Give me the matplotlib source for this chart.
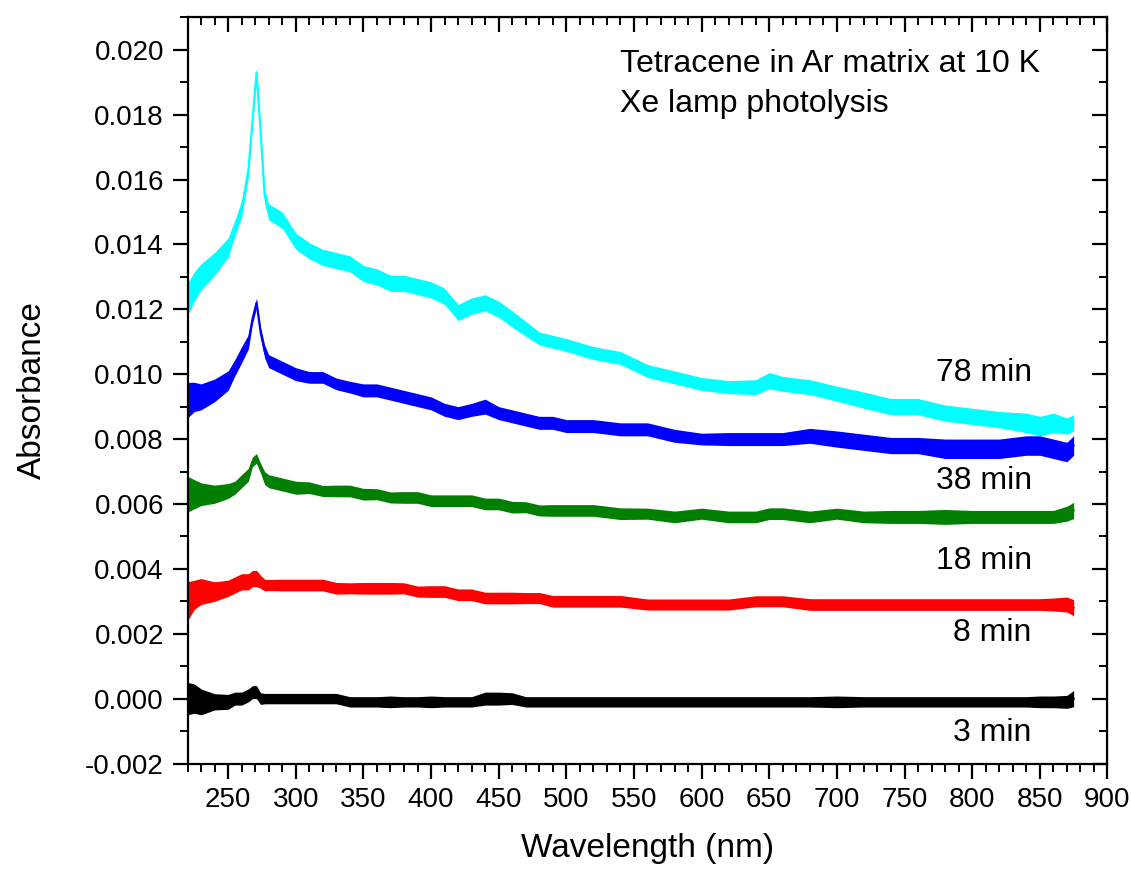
import matplotlib
matplotlib.use("Agg")
import matplotlib.pyplot as plt
from matplotlib.ticker import MultipleLocator, FormatStrFormatter, NullFormatter
import numpy as np

plt.rcParams['font.family'] = ['Liberation Sans', 'DejaVu Sans']
plt.rcParams['axes.unicode_minus'] = False

# wavelength grid (nm)
wl = [220, 225, 230, 240, 250, 255, 260, 265, 268, 271,
      274, 277, 280, 290, 300, 310, 320, 330, 340, 350,
      360, 370, 380, 390, 400, 410, 420, 430, 440, 450,
      460, 470, 480, 490, 500, 520, 540, 560, 580, 600,
      620, 640, 650, 660, 680, 700, 720, 740, 760, 780,
      800, 820, 840, 850, 860, 870, 875]

# mean absorbance of each photolysis time
a78 = [0.0123, 0.0127, 0.0130, 0.0134, 0.0139, 0.0145, 0.0151, 0.0163, 0.0178, 0.0193,
       0.0175, 0.0155, 0.0150, 0.01475, 0.0141, 0.0138, 0.0136, 0.0135, 0.0134, 0.0131,
       0.0130, 0.0128, 0.0128, 0.0127, 0.0126, 0.0124, 0.0119, 0.0121, 0.0122, 0.0120,
       0.0117, 0.0114, 0.0111, 0.0110, 0.0109, 0.01065, 0.0105, 0.0101, 0.0099, 0.0097,
       0.0096, 0.0096, 0.0098, 0.0097, 0.0096, 0.0094, 0.0092, 0.0090, 0.0090, 0.0088,
       0.0087, 0.0086, 0.0085, 0.0084, 0.0085, 0.0084, 0.0085]
a38 = [0.0092, 0.0093, 0.0093, 0.0095, 0.0098, 0.0102, 0.0106, 0.0110, 0.0117, 0.0122,
       0.0113, 0.0107, 0.0104, 0.0102, 0.0100, 0.0099, 0.0099, 0.0097, 0.0096, 0.0095,
       0.0095, 0.0094, 0.0093, 0.0092, 0.0091, 0.0089, 0.0088, 0.0089, 0.0090, 0.0088,
       0.0087, 0.0086, 0.0085, 0.0085, 0.0084, 0.0084, 0.0083, 0.0083, 0.0081, 0.0080,
       0.0080, 0.0080, 0.0080, 0.0080, 0.0081, 0.0080, 0.0079, 0.0078, 0.0078, 0.0077,
       0.0077, 0.0077, 0.0078, 0.0078, 0.0077, 0.0076, 0.0078]
a18 = [0.0063, 0.0063, 0.0063, 0.0063, 0.0064, 0.0065, 0.0067, 0.0069, 0.0073, 0.0074,
       0.0071, 0.0068, 0.0067, 0.0066, 0.0065, 0.0065, 0.0064, 0.0064, 0.0064, 0.0063,
       0.0063, 0.0062, 0.0062, 0.0062, 0.0061, 0.0061, 0.0061, 0.0061, 0.0060, 0.0060,
       0.0059, 0.0059, 0.0058, 0.0058, 0.0058, 0.0058, 0.0057, 0.0057, 0.0056, 0.0057,
       0.0056, 0.0056, 0.0057, 0.0057, 0.0056, 0.0057, 0.0056, 0.0056, 0.0056, 0.0056,
       0.0056, 0.0056, 0.0056, 0.0056, 0.0056, 0.0057, 0.0058]
a8 = [0.0030, 0.0032, 0.0033, 0.0033, 0.0034, 0.0035, 0.0036, 0.0036, 0.0037, 0.0037,
      0.0036, 0.0035, 0.0035, 0.0035, 0.0035, 0.0035, 0.0035, 0.0034, 0.0034, 0.0034,
      0.0034, 0.0034, 0.0034, 0.0033, 0.0033, 0.0033, 0.0032, 0.0032, 0.0031, 0.0031,
      0.0031, 0.0031, 0.0031, 0.0030, 0.0030, 0.0030, 0.0030, 0.0029, 0.0029, 0.0029,
      0.0029, 0.0030, 0.0030, 0.0030, 0.0029, 0.0029, 0.0029, 0.0029, 0.0029, 0.0029,
      0.0029, 0.0029, 0.0029, 0.0029, 0.0029, 0.0029, 0.0028]
a3 = [0.0000, 0.0000, -0.0001, -0.0001, -0.0001, 0.0000, 0.0000, 0.0001, 0.0002, 0.0002,
      0.0000, 0.0000, 0.0000, 0.0000, 0.0000, 0.0000, 0.0000, 0.0000, -0.0001, -0.0001,
      -0.0001, -0.0001, -0.0001, -0.0001, -0.0001, -0.0001, -0.0001, -0.0001, 0.0000, 0.0000,
      0.0000, -0.0001, -0.0001, -0.0001, -0.0001, -0.0001, -0.0001, -0.0001, -0.0001, -0.0001,
      -0.0001, -0.0001, -0.0001, -0.0001, -0.0001, -0.0001, -0.0001, -0.0001, -0.0001, -0.0001,
      -0.0001, -0.0001, -0.0001, -0.0001, -0.0001, -0.0001, 0.0000]

# half-width of the noise band around each mean
n78 = [0.0005, 0.00045, 0.0004, 0.00035, 0.0003, 0.00025, 0.00025, 0.00022, 0.00015, 0.00015,
       0.00015, 0.00022, 0.00025, 0.00025, 0.00025, 0.00025, 0.00025, 0.00025, 0.00025, 0.00025,
       0.00025, 0.00025, 0.00025, 0.00025, 0.00025, 0.00025, 0.00025, 0.00025, 0.00025, 0.00025,
       0.00025, 0.00023, 0.0002, 0.0002, 0.0002, 0.0002, 0.0002, 0.0002, 0.0002, 0.0002,
       0.0002, 0.00023, 0.00025, 0.00023, 0.00023, 0.00023, 0.00025, 0.00025, 0.00025, 0.00025,
       0.00025, 0.00025, 0.0003, 0.0003, 0.0003, 0.00025, 0.00025]
n38 = [0.00055, 0.00045, 0.0004, 0.00035, 0.0003, 0.00025, 0.00025, 0.00022, 0.00015, 0.00015,
       0.00015, 0.0002, 0.0002, 0.0002, 0.0002, 0.00018, 0.00018, 0.00018, 0.00018, 0.0002,
       0.0002, 0.0002, 0.0002, 0.0002, 0.0002, 0.0002, 0.0002, 0.0002, 0.00023, 0.0002,
       0.0002, 0.0002, 0.0002, 0.0002, 0.0002, 0.0002, 0.0002, 0.0002, 0.0002, 0.00018,
       0.0002, 0.0002, 0.0002, 0.0002, 0.00023, 0.00025, 0.00025, 0.00025, 0.00025, 0.0003,
       0.0003, 0.0003, 0.0003, 0.0003, 0.0003, 0.0003, 0.0003]
n18 = [0.00055, 0.00045, 0.00035, 0.00028, 0.00023, 0.0002, 0.0002, 0.0002, 0.00015, 0.00015,
       0.00015, 0.0002, 0.0002, 0.0002, 0.0002, 0.00018, 0.00017, 0.00018, 0.00018, 0.00018,
       0.00017, 0.00017, 0.00018, 0.00018, 0.00018, 0.00018, 0.00018, 0.00018, 0.00018, 0.00018,
       0.00018, 0.00017, 0.00017, 0.00018, 0.00018, 0.00018, 0.00018, 0.00017, 0.00018, 0.00017,
       0.00018, 0.00018, 0.00018, 0.00018, 0.00018, 0.00017, 0.00018, 0.0002, 0.0002, 0.00023,
       0.0002, 0.0002, 0.0002, 0.0002, 0.0002, 0.00023, 0.00025]
n8 = [0.0006, 0.00045, 0.0004, 0.0003, 0.00025, 0.00025, 0.00025, 0.00025, 0.00025, 0.00025,
      0.0002, 0.00018, 0.00017, 0.00018, 0.00018, 0.00018, 0.00018, 0.00018, 0.00017, 0.00018,
      0.00018, 0.00018, 0.00017, 0.00017, 0.00018, 0.00018, 0.00018, 0.00018, 0.00018, 0.00018,
      0.00018, 0.00017, 0.00017, 0.00018, 0.00018, 0.00018, 0.00018, 0.00017, 0.00017, 0.00017,
      0.00017, 0.00017, 0.00017, 0.00017, 0.00018, 0.00018, 0.00018, 0.00018, 0.00018, 0.00018,
      0.00018, 0.00018, 0.00018, 0.00018, 0.0002, 0.00023, 0.00025]
n3 = [0.0005, 0.00045, 0.0004, 0.00025, 0.00023, 0.0002, 0.0002, 0.0002, 0.0002, 0.0002,
      0.00018, 0.00016, 0.00016, 0.00016, 0.00016, 0.00016, 0.00016, 0.00016, 0.00016, 0.00016,
      0.00016, 0.00018, 0.00016, 0.00016, 0.00018, 0.00016, 0.00016, 0.00016, 0.0002, 0.0002,
      0.00018, 0.00016, 0.00016, 0.00016, 0.00016, 0.00016, 0.00016, 0.00016, 0.00016, 0.00016,
      0.00016, 0.00016, 0.00016, 0.00016, 0.00016, 0.00018, 0.00016, 0.00016, 0.00016, 0.00016,
      0.00016, 0.00016, 0.00016, 0.00018, 0.00018, 0.0002, 0.00025]

times = ['78 min', '38 min', '18 min', '8 min', '3 min']
colors = ['#00ffff', '#0000ff', '#007f00', '#ff0000', '#000000']
label_y = [0.0098, 0.00647, 0.00398, 0.00177, -0.0013]

fig = plt.figure(figsize=(11.31, 8.69), dpi=100)
ax = fig.add_axes([0.1658, 0.1214, 0.8134, 0.8587])

x = np.array(wl)
for mean, spread, c in zip([a78, a38, a18, a8, a3], [n78, n38, n18, n8, n3], colors):
    m = np.array(mean)
    s = np.array(spread)
    ax.fill_between(x, m - s, m + s, color=c, linewidth=0)
    ax.plot(x, m, color=c, lw=1.5)

for t, yy in zip(times, label_y):
    ax.text(844, yy, t, ha='right', va='baseline', fontsize=23)

ax.text(540, 0.01931, 'Tetracene in Ar matrix at 10 K', ha='left', va='baseline', fontsize=23)
ax.text(540, 0.01807, 'Xe lamp photolysis', ha='left', va='baseline', fontsize=23)

ax.set_xlim(220, 900)
ax.set_ylim(-0.002, 0.021)
ax.set_xlabel('Wavelength (nm)', fontsize=24, labelpad=14)
ax.set_ylabel('Absorbance', fontsize=24)
ax.yaxis.set_label_coords(-0.152, 0.5)

ax.xaxis.set_major_locator(MultipleLocator(50))
ax.xaxis.set_minor_locator(MultipleLocator(10))
ax.yaxis.set_major_locator(MultipleLocator(0.002))
ax.yaxis.set_minor_locator(MultipleLocator(0.001))
ax.yaxis.set_major_formatter(FormatStrFormatter('%.3f'))
ax.set_xticks(np.arange(250, 901, 50))

for sp in ax.spines.values():
    sp.set_linewidth(1.6)
ax.tick_params(which='major', direction='out', length=11, width=1.6, labelsize=20, pad=6)
ax.tick_params(which='minor', direction='out', length=6, width=1.4)

# mirrored ticks pointing inward on top and right
top = ax.secondary_xaxis('top')
top.xaxis.set_major_locator(MultipleLocator(50))
top.xaxis.set_minor_locator(MultipleLocator(10))
top.xaxis.set_major_formatter(NullFormatter())
top.tick_params(which='major', direction='in', length=11, width=1.6)
top.tick_params(which='minor', direction='in', length=6, width=1.4)
right = ax.secondary_yaxis('right')
right.yaxis.set_major_locator(MultipleLocator(0.002))
right.yaxis.set_minor_locator(MultipleLocator(0.001))
right.yaxis.set_major_formatter(NullFormatter())
right.tick_params(which='major', direction='in', length=11, width=1.6)
right.tick_params(which='minor', direction='in', length=6, width=1.4)

fig.savefig('out.png', dpi=100)
